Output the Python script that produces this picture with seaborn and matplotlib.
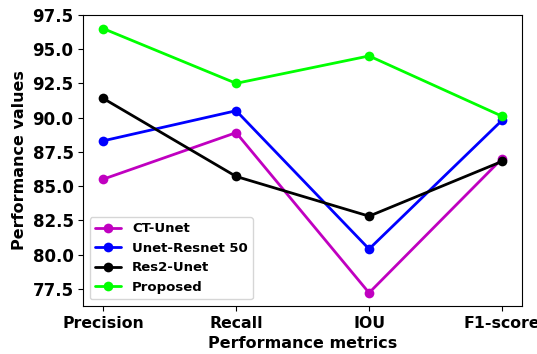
import matplotlib
matplotlib.use("Agg")
import matplotlib.pyplot as plt
import seaborn as sns
import pandas as pd

metrics = ["Precision", "Recall", "IOU", "F1-score"]
ct_unet = [85.5, 88.9, 77.2, 87.0]
unet_resnet50 = [88.3, 90.5, 80.4, 89.8]
res2_unet = [91.4, 85.7, 82.8, 86.8]
proposed = [96.5, 92.5, 94.5, 90.1]

models = ["CT-Unet", "Unet-Resnet 50", "Res2-Unet", "Proposed"]
colors = ["#c000c0", "#0000ff", "#000000", "#00ff00"]

rows = []
for name, vals in zip(models, [ct_unet, unet_resnet50, res2_unet, proposed]):
    for m, v in zip(metrics, vals):
        rows.append({"metric": m, "value": v, "model": name})
df = pd.DataFrame(rows)

sns.set_style("ticks", {"axes.edgecolor": "black", "text.color": "black",
                        "xtick.color": "black", "ytick.color": "black",
                        "axes.labelcolor": "black"})
plt.rcParams["font.family"] = ["DejaVu Sans"]

fig, ax = plt.subplots(figsize=(5.37, 3.54), dpi=100)
sns.lineplot(data=df, x="metric", y="value", hue="model", hue_order=models,
             palette=colors, marker="o", markersize=7, markeredgewidth=0,
             linewidth=2, ax=ax, sort=False)

ax.set_ylim(76.25, 97.5)
ax.set_xlabel("Performance metrics", fontsize=11.5, fontweight="bold", color="black")
ax.set_ylabel("Performance values", fontsize=11.5, fontweight="bold", color="black")
for lab in ax.get_xticklabels():
    lab.set_fontweight("bold")
    lab.set_fontsize(11.3)
    lab.set_color("black")
for lab in ax.get_yticklabels():
    lab.set_fontweight("bold")
    lab.set_fontsize(12)
    lab.set_color("black")
ax.yaxis.set_major_formatter(matplotlib.ticker.FormatStrFormatter("%.1f"))

leg = ax.legend(loc="lower left", prop={"weight": "bold", "size": 9.5})
for s in ax.spines.values():
    s.set_visible(True)
    s.set_color("black")

fig.subplots_adjust(left=0.155, right=0.972, top=0.958, bottom=0.136)
fig.savefig("out.png", dpi=100)
